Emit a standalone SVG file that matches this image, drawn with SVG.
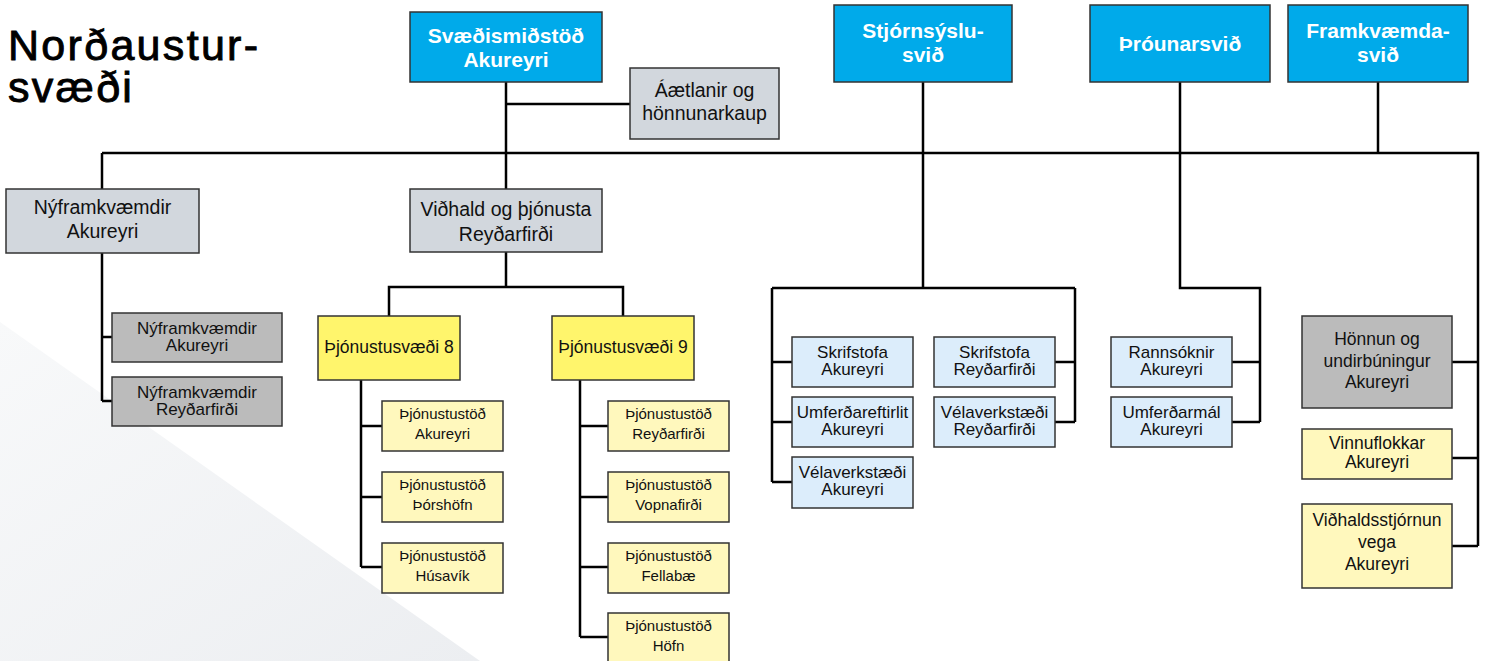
<svg xmlns="http://www.w3.org/2000/svg" width="1490" height="661" viewBox="0 0 1490 661">
<defs>
<linearGradient id="bg" x1="0" y1="0" x2="1" y2="1">
<stop offset="0" stop-color="#f8f9fa"/>
<stop offset="1" stop-color="#eceef1"/>
</linearGradient>
<style>
text{font-family:"Liberation Sans",Arial,sans-serif;text-anchor:middle;fill:#111}
.top rect{fill:#00aaea;stroke:#333;stroke-width:1.5}
.top text{fill:#fff;font-weight:bold;font-size:21px}
.lg rect{fill:#d2d7dd;stroke:#333;stroke-width:1.5}
.lg text{font-size:19.5px}
.gr rect{fill:#bbbbbb;stroke:#333;stroke-width:1.5}
.gr text{font-size:17px}
.ye rect{fill:#fff56c;stroke:#333;stroke-width:1.5}
.ye text{font-size:17.5px}
.ly rect{fill:#fff8bd;stroke:#333;stroke-width:1.5}
.ly text{font-size:15px}
.lb rect{fill:#dcedfb;stroke:#333;stroke-width:1.5}
.lb text{font-size:17px}
.ly2 rect{fill:#fff8bd;stroke:#333;stroke-width:1.5}
.ly2 text{font-size:17.5px}
.gr2 text{font-size:17.5px}
#connectors path{fill:none;stroke:#000;stroke-width:2.5}
.title{font-size:43px;text-anchor:start;letter-spacing:2.3px;fill:#000;stroke:#000;stroke-width:0.9}
</style>
</defs>
<rect width="1490" height="661" fill="#fff"/>
<polygon points="0,322 480,661 0,661" fill="url(#bg)"/>
<text class="title" x="8" y="60">Norðaustur-</text>
<text class="title" x="8" y="102">svæði</text>

<g id="connectors">
<path d="M506,82 V189"/>
<path d="M506,104 H630"/>
<path d="M102,153 H1478 V546"/>
<path d="M102,153 V189"/>
<path d="M102,253 V401 M102,337 H112 M102,401 H112"/>
<path d="M506,252 V287 M389,316 V287 H623 V316"/>
<path d="M361,380 V567 M361,426 H382 M361,497 H382 M361,567 H382"/>
<path d="M580,380 V637 M580,426 H608 M580,497 H608 M580,567 H608 M580,637 H608"/>
<path d="M923,82 V288 M772,288 H1075 M772,288 V482 M772,362 H792 M772,422 H792 M772,482 H792 M1075,288 V422 M1055,362 H1075 M1055,422 H1075"/>
<path d="M1180,82 V288 H1260 V422 M1232,362 H1260 M1232,422 H1260"/>
<path d="M1378,82 V153"/>
<path d="M1452,362 H1478 M1452,458 H1478 M1452,546 H1478"/>
</g>

<g id="n-svaedismidstod" class="top"><rect x="410" y="12" width="192" height="70"/><text x="506" y="43">Svæðismiðstöð</text><text x="506" y="67">Akureyri</text></g>
<g id="n-aaetlanir" class="lg"><rect x="630" y="68" width="149" height="71"/><text x="704.5" y="97">Áætlanir og</text><text x="704.5" y="120">hönnunarkaup</text></g>
<g id="n-stjornsyslu" class="top"><rect x="834" y="5" width="178" height="77"/><text x="923" y="38">Stjórnsýslu-</text><text x="923" y="62">svið</text></g>
<g id="n-throunar" class="top"><rect x="1090" y="5" width="180" height="77"/><text x="1180" y="51">Þróunarsvið</text></g>
<g id="n-framkvaemda" class="top"><rect x="1288" y="5" width="180" height="77"/><text x="1378" y="38">Framkvæmda-</text><text x="1378" y="62">svið</text></g>

<g id="n-nyfr" class="lg"><rect x="6" y="189" width="193" height="64"/><text x="102.5" y="214">Nýframkvæmdir</text><text x="102.5" y="238">Akureyri</text></g>
<g id="n-nyfr-ak" class="gr"><rect x="112" y="313" width="170" height="49"/><text x="197" y="334">Nýframkvæmdir</text><text x="197" y="351">Akureyri</text></g>
<g id="n-nyfr-rey" class="gr"><rect x="112" y="377" width="170" height="49"/><text x="197" y="398">Nýframkvæmdir</text><text x="197" y="415">Reyðarfirði</text></g>

<g id="n-vidhald" class="lg"><rect x="410" y="189" width="192" height="63"/><text x="506" y="216">Viðhald og þjónusta</text><text x="506" y="241">Reyðarfirði</text></g>
<g id="n-thj8" class="ye"><rect x="318" y="316" width="142" height="64"/><text x="389" y="353">Þjónustusvæði 8</text></g>
<g id="n-thj9" class="ye"><rect x="552" y="316" width="142" height="64"/><text x="623" y="353">Þjónustusvæði 9</text></g>

<g id="n-st-ak" class="ly"><rect x="382" y="401" width="121" height="50"/><text x="442.5" y="419">Þjónustustöð</text><text x="442.5" y="439">Akureyri</text></g>
<g id="n-st-thor" class="ly"><rect x="382" y="472" width="121" height="50"/><text x="442.5" y="490">Þjónustustöð</text><text x="442.5" y="510">Þórshöfn</text></g>
<g id="n-st-hus" class="ly"><rect x="382" y="543" width="121" height="50"/><text x="442.5" y="561">Þjónustustöð</text><text x="442.5" y="581">Húsavík</text></g>
<g id="n-st-rey" class="ly"><rect x="608" y="401" width="121" height="50"/><text x="668.5" y="419">Þjónustustöð</text><text x="668.5" y="439">Reyðarfirði</text></g>
<g id="n-st-vop" class="ly"><rect x="608" y="472" width="121" height="50"/><text x="668.5" y="490">Þjónustustöð</text><text x="668.5" y="510">Vopnafirði</text></g>
<g id="n-st-fel" class="ly"><rect x="608" y="543" width="121" height="50"/><text x="668.5" y="561">Þjónustustöð</text><text x="668.5" y="581">Fellabæ</text></g>
<g id="n-st-hofn" class="ly"><rect x="608" y="613" width="121" height="50"/><text x="668.5" y="631">Þjónustustöð</text><text x="668.5" y="651">Höfn</text></g>

<g id="n-skr-ak" class="lb"><rect x="792" y="337" width="121" height="50"/><text x="852.5" y="358">Skrifstofa</text><text x="852.5" y="375">Akureyri</text></g>
<g id="n-umf-ak" class="lb"><rect x="792" y="397" width="121" height="50"/><text x="852.5" y="418">Umferðareftirlit</text><text x="852.5" y="435">Akureyri</text></g>
<g id="n-vel-ak" class="lb"><rect x="792" y="457" width="121" height="51"/><text x="852.5" y="478">Vélaverkstæði</text><text x="852.5" y="495">Akureyri</text></g>
<g id="n-skr-rey" class="lb"><rect x="934" y="337" width="121" height="50"/><text x="994.5" y="358">Skrifstofa</text><text x="994.5" y="375">Reyðarfirði</text></g>
<g id="n-vel-rey" class="lb"><rect x="934" y="397" width="121" height="50"/><text x="994.5" y="418">Vélaverkstæði</text><text x="994.5" y="435">Reyðarfirði</text></g>

<g id="n-rann" class="lb"><rect x="1111" y="337" width="121" height="50"/><text x="1171.5" y="358">Rannsóknir</text><text x="1171.5" y="375">Akureyri</text></g>
<g id="n-umfmal" class="lb"><rect x="1111" y="397" width="121" height="50"/><text x="1171.5" y="418">Umferðarmál</text><text x="1171.5" y="435">Akureyri</text></g>

<g id="n-honnun" class="gr gr2"><rect x="1302" y="316" width="150" height="92"/><text x="1377" y="345">Hönnun og</text><text x="1377" y="367">undirbúningur</text><text x="1377" y="388">Akureyri</text></g>
<g id="n-vinnufl" class="ly2"><rect x="1302" y="429" width="150" height="50"/><text x="1377" y="449">Vinnuflokkar</text><text x="1377" y="468">Akureyri</text></g>
<g id="n-vidhaldsstj" class="ly2"><rect x="1302" y="504" width="150" height="84"/><text x="1377" y="526">Viðhaldsstjórnun</text><text x="1377" y="548">vega</text><text x="1377" y="570">Akureyri</text></g>
</svg>
